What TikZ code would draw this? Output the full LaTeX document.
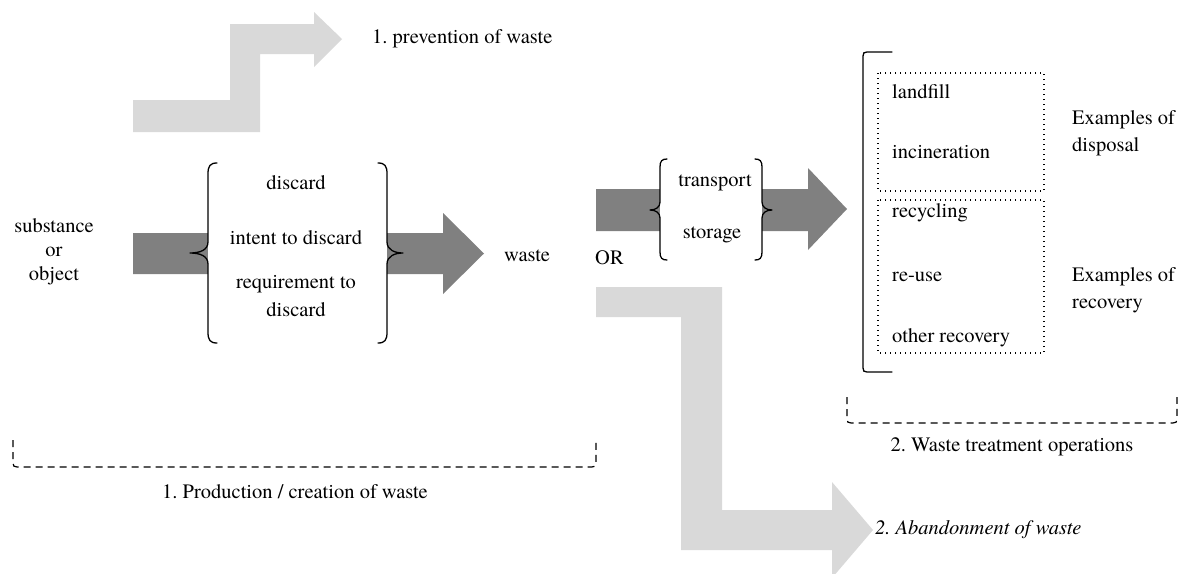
\documentclass[tikz,border=0pt]{standalone}
\usepackage{fontspec}
\setmainfont{texgyretermes}[Extension=.otf, UprightFont=*-regular, ItalicFont=*-italic, BoldFont=*-bold, BoldItalicFont=*-bolditalic]
\frenchspacing
\begin{document}
\begin{tikzpicture}[x=1pt,y=-1pt,
  txt/.style={font=\fontsize{20.5}{24}\selectfont, inner sep=0pt, align=center},
  darkarrow/.style={fill=arrowdark, draw=none},
  lightarrow/.style={fill=arrowlight, draw=none},
  bracepath/.style={draw=black, line width=1.3pt, line cap=round, line join=round},
  dotbox/.style={draw=black, line width=1.3pt, dash pattern=on 1.3pt off 3.7pt},
  dashbracket/.style={draw=black, line width=1.2pt, dash pattern=on 7pt off 5pt}]
\definecolor{arrowdark}{HTML}{808080}
\definecolor{arrowlight}{HTML}{D9D9D9}
\useasboundingbox (0,0) rectangle (1186,573);
\clip (0,0) rectangle (1186,573);

% prevention arrow
\fill[lightarrow] (133,100) -- (230,100) -- (230,24) -- (314,24) -- (314,12) -- (342,39)
  -- (314,67) -- (314,54) -- (260,54) -- (260,132) -- (133,132) -- cycle;
\node[txt, anchor=west] (prev) at (372,39) {1. prevention of waste};

% main dark arrow
\fill[darkarrow] (133,233) -- (443,233) -- (443,213) -- (484,253.5) -- (443,294)
  -- (443,274) -- (133,274) -- cycle;
\fill[white] (208,163) rectangle (387,343);
\draw[bracepath] (217,163) .. controls (210,163) and (208,166) .. (208,174) -- (208,242)
  .. controls (208,250) and (200,253) .. (190,253) .. controls (200,253) and (208,256) .. (208,264)
  -- (208,332) .. controls (208,340) and (210,343) .. (217,343);
\draw[bracepath] (378,163) .. controls (385,163) and (387,166) .. (387,174) -- (387,242)
  .. controls (387,250) and (395,253) .. (403,253) .. controls (395,253) and (387,256) .. (387,264)
  -- (387,332) .. controls (387,340) and (385,343) .. (378,343);

\node[txt] (sub) at (54,252) {substance\\or\\object};
\node[txt] (d1) at (296,183) {discard};
\node[txt] (d2) at (296,238) {intent to discard};
\node[txt, align=center, font=\fontsize{20.5}{28}\selectfont] (d3) at (296,296) {requirement to\\discard};
\node[txt, anchor=west] (waste) at (504,256) {waste};
\node[txt, anchor=west] (or) at (595,258) {OR};

% transport arrow
\fill[darkarrow] (596,189) -- (808,189) -- (808,168) -- (847,209) -- (808,250)
  -- (808,231) -- (596,231) -- cycle;
\fill[white] (660,159) rectangle (762,260);
\draw[bracepath] (667,159) .. controls (662,159) and (660,161) .. (660,167) -- (660,202)
  .. controls (660,207) and (656,210) .. (650,210) .. controls (656,210) and (660,213) .. (660,218)
  -- (660,252) .. controls (660,258) and (662,260) .. (667,260);
\draw[bracepath] (755,159) .. controls (760,159) and (762,161) .. (762,167) -- (762,202)
  .. controls (762,207) and (766,210) .. (772,210) .. controls (766,210) and (762,213) .. (762,218)
  -- (762,252) .. controls (762,258) and (760,260) .. (755,260);
\node[txt] (tr) at (715,183) {transport};
\node[txt] (st) at (712,235) {storage};

% abandonment arrow
\fill[lightarrow] (596,287) -- (722,287) -- (722,510) -- (832,510) -- (832,482) -- (873,530)
  -- (832,578) -- (832,550) -- (681,550) -- (681,317) -- (596,317) -- cycle;
\node[txt, anchor=west, font=\fontsize{20.5}{24}\selectfont\itshape] (aband) at (875,530) {2. Abandonment of waste};

% right bracket and dotted boxes
\draw[bracepath] (892,52) -- (867,52) .. controls (864,52) and (863,53) .. (863,56) -- (863,368)
  .. controls (863,371) and (864,372) .. (867,372) -- (892,372);
\draw[dotbox] (878,73) rectangle (1044,191);
\draw[dotbox] (878,200) rectangle (1044,353);
\node[txt, anchor=west] (lf) at (892,92) {landfill};
\node[txt, anchor=west] (inc) at (892,152) {incineration};
\node[txt, anchor=west] (rec) at (892,213) {recycling};
\node[txt, anchor=west] (reu) at (892,277) {re-use};
\node[txt, anchor=west] (oth) at (892,338) {other recovery};
\node[txt, anchor=west, align=left, font=\fontsize{20.5}{27}\selectfont] (exd) at (1072,133) {Examples of\\disposal};
\node[txt, anchor=west, align=left, font=\fontsize{20.5}{27}\selectfont] (exr) at (1072,290) {Examples of\\recovery};

% dashed brackets
\draw[dashbracket] (13,440) -- (13,463) .. controls (13,466) and (14,467) .. (17,467) -- (592,467)
  .. controls (595,467) and (596,466) .. (596,463) -- (596,440);
\node[txt] (prod) at (295,492) {1. Production / creation of waste};
\draw[dashbracket] (847,397) -- (847,419) .. controls (847,422) and (848,423) .. (851,423) -- (1173,423)
  .. controls (1176,423) and (1177,422) .. (1177,419) -- (1177,397);
\node[txt] (wto) at (1012,447) {2. Waste treatment operations};
\end{tikzpicture}
\end{document}
